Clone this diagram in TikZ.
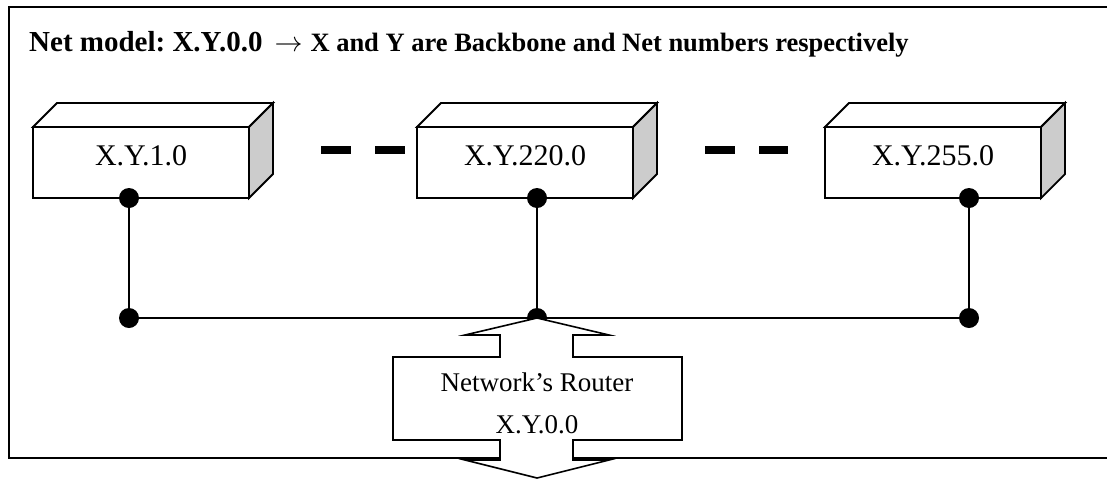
\documentclass[tikz,border=0pt]{standalone}
\usepackage{fontspec}
\usepackage{graphicx}
\setmainfont{Liberation Serif}
\usetikzlibrary{calc}
\definecolor{sidegray}{RGB}{204,204,204}
\begin{document}
\begin{tikzpicture}[x=1pt,y=-1pt,
  frontface/.style={draw, line width=1.8pt, fill=white, outer sep=0pt,
    minimum width=216pt, minimum height=71pt, inner sep=0pt,
    text height=20pt, text depth=15pt, font=\fontsize{30}{36}\selectfont},
  boxline/.style={line width=1.8pt, line join=miter},
  dot/.style={circle, fill=black, inner sep=0pt, minimum size=20pt},
  wire/.style={line width=2pt},
  gapline/.style={line width=8pt, dash pattern=on 30pt off 24pt},
  frameline/.style={line width=2pt},
  routerline/.style={line width=1.6pt, fill=white, line join=miter},
  rtext/.style={inner sep=0pt, font=\fontsize{27}{32}\selectfont}]
\useasboundingbox (0,0) rectangle (1107,480);
\clip (0,0) rectangle (1107,480);

% outer frame (its right side runs past the page edge)
\draw[frameline] (1120,7) -- (9,7) -- (9,458) -- (1120,458);

% title
\node[anchor=base west, inner sep=0pt] (title) at (29,51.7)
  {\bfseries\frenchspacing
   \fontsize{29}{34}\selectfont Net model: X.Y.0.0\kern12pt\resizebox{28pt}{!}{$\rightarrow$}\kern8pt
   \fontsize{26.5}{32}\selectfont X and Y are Backbone and Net numbers respectively};

% the three subnet boxes (front faces)
\node[frontface] (b1) at (141,162.5) {X.Y.1.0};
\node[frontface] (b2) at (525,162.5) {X.Y.220.0};
\node[frontface] (b3) at (933,162.5) {X.Y.255.0};

% top and side faces
\foreach \b in {b1,b2,b3} {
  \draw[boxline, fill=white] (\b.north west) -- ++(24,-24)
    -- ($(\b.north east)+(24,-24)$) -- (\b.north east) -- cycle;
  \draw[boxline, fill=sidegray] (\b.north east) -- ++(24,-24)
    -- ($(\b.south east)+(24,-24)$) -- (\b.south east) -- cycle;
}

% dashes between the boxes
\draw[gapline] ([xshift=72pt,yshift=12.5pt]b1.east) -- ([xshift=-12pt,yshift=12.5pt]b2.west);
\draw[gapline] ([xshift=72pt,yshift=12.5pt]b2.east) -- ([xshift=-37pt,yshift=12.5pt]b3.west);

% bus
\coordinate (busy) at (0,318);
\node[dot] (d1) at ([xshift=-12pt]b1.south) {};
\node[dot] (d2) at ([xshift=12pt]b2.south) {};
\node[dot] (d3) at ([xshift=36pt]b3.south) {};
\node[dot] (j1) at (d1 |- busy) {};
\node[dot] (j2) at (d2 |- busy) {};
\node[dot] (j3) at (d3 |- busy) {};
\draw[wire] (d1.center) -- (j1.center) -- (j3.center) -- (d3.center);
\draw[wire] (d2.center) -- (j2.center);

% router: double-headed block arrow
\draw[routerline] (j2.center) -- (465,335) -- (500,335) -- (500,357) -- (393,357)
  -- (393,440) -- (500,440) -- (500,460) -- (465,460) -- (537,478) -- (609,460)
  -- (573,460) -- (573,440) -- (682,440) -- (682,357) -- (573,357) -- (573,335)
  -- (609,335) -- cycle;
\node[rtext, anchor=base] (rt1) at (537,391) {Network’s Router};
\node[rtext, anchor=base] (rt2) at (537,433) {X.Y.0.0};
\end{tikzpicture}
\end{document}
